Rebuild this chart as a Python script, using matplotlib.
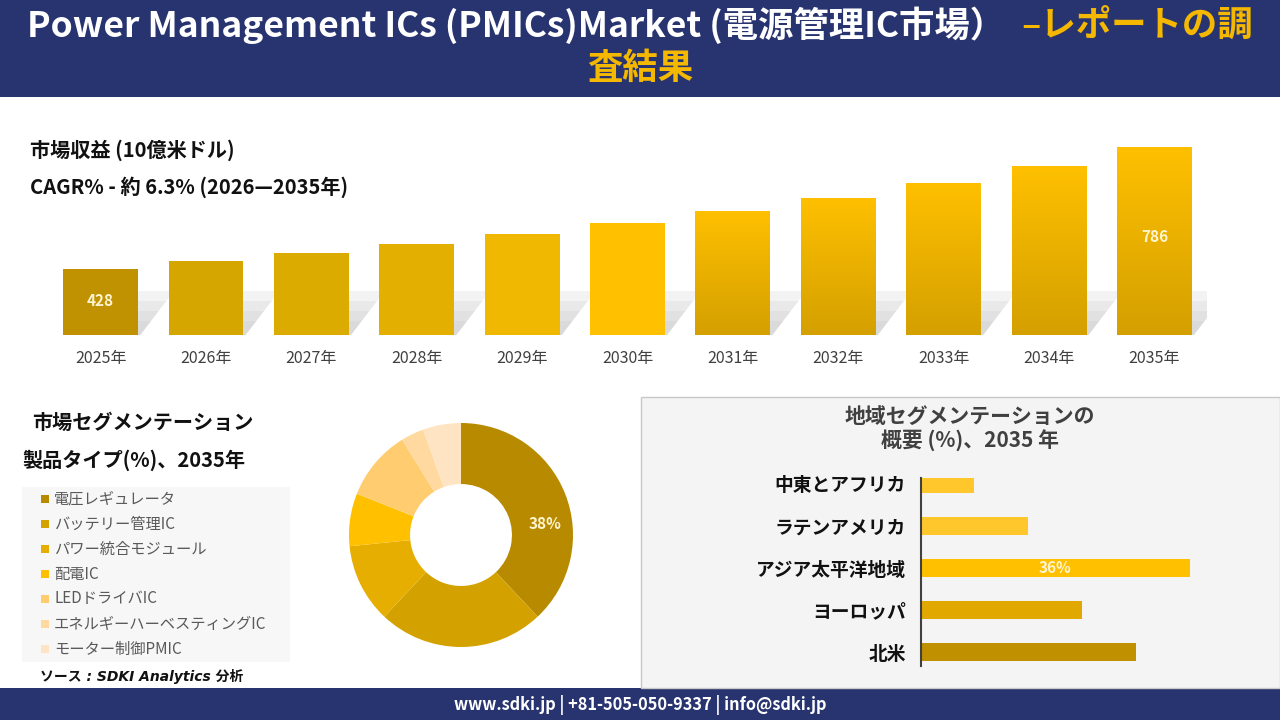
import numpy as np
import matplotlib
matplotlib.use("Agg")
import matplotlib.pyplot as plt
from matplotlib.patches import Rectangle, Polygon

plt.rcParams['font.family'] = ['Noto Sans CJK JP', 'DejaVu Sans']

# market revenue
years = ["2025年", "2026年", "2027年", "2028年", "2029年", "2030年",
         "2031年", "2032年", "2033年", "2034年", "2035年"]
revenue = [428, 451, 475, 501, 530, 563, 598, 636, 680, 730, 786]
bar_colors = ["#C09100", "#D6A600", "#DCAB00", "#E3AF00", "#F0B800", "#FFC000",
              "#FFC000", "#FFC000", "#FFC000", "#FFC000", "#FFC000"]
labelled = {0: "428", 10: "786"}

# product type share 2035
products = ["電圧レギュレータ", "バッテリー管理IC", "パワー統合モジュール", "配電IC",
            "LEDドライバIC", "エネルギーハーベスティングIC", "モーター制御PMIC"]
product_share = [38, 24, 11.4, 7.6, 10.2, 3.3, 5.5]
product_colors = ["#B88A00", "#D4A200", "#E6AE00", "#FFC000", "#FFCC70", "#FFD9A0", "#FFE4C4"]

# regional share 2035
regions = ["中東とアフリカ", "ラテンアメリカ", "アジア太平洋地域", "ヨーロッパ", "北米"]
region_share = [7.1, 14.4, 36, 21.6, 28.8]
region_colors = ["#FFC72C", "#FFC72C", "#FFC000", "#E1A900", "#C09000"]

W, H = 1280, 720
fig = plt.figure(figsize=(12.8, 7.2), dpi=100)
fig.patch.set_facecolor("white")

def fx(px):
    return px / W

def fy(py):
    return 1 - py / H

def box(x0, y0, x1, y1):
    # pixel box -> figure rect
    return [fx(x0), fy(y1), fx(x1) - fx(x0), fy(y0) - fy(y1)]

navy = "#283470"
gold = "#F5B800"

# header and footer bands
fig.patches.append(Rectangle((0, fy(97)), 1, 97 / H, transform=fig.transFigure,
                             facecolor=navy, edgecolor="none", zorder=-2))
fig.patches.append(Rectangle((0, 0), 1, 32 / H, transform=fig.transFigure,
                             facecolor=navy, edgecolor="none", zorder=-2))
# right lower panel
fig.patches.append(Rectangle((fx(641), fy(688)), fx(1280) - fx(641), (688 - 397) / H,
                             transform=fig.transFigure, facecolor="#F4F4F4",
                             edgecolor="#C8C8C8", linewidth=1, zorder=-2))

# title: white part + gold part on one line, centred
renderer = fig.canvas.get_renderer()
t1 = fig.text(0, fy(25), "Power Management ICs (PMICs)Market (電源管理IC市場）  ",
              color="white", fontsize=25.5, fontweight="bold", va="center", ha="left")
t2 = fig.text(0, fy(25), "–レポートの調", color=gold, fontsize=25.5,
              fontweight="bold", va="center", ha="left")
w1 = t1.get_window_extent(renderer).width
w2 = t2.get_window_extent(renderer).width
start = (W - (w1 + w2)) / 2
t1.set_x(fx(start))
t2.set_x(fx(start + w1))
fig.text(fx(640), fy(68), "査結果", color=gold, fontsize=25.5, fontweight="bold",
         va="center", ha="center")

# revenue text
fig.text(fx(30), fy(150), "市場収益 (10億米ドル)", fontsize=14.5, fontweight="bold",
         color="#111111", va="center")
fig.text(fx(30), fy(187), "CAGR% - 約 6.3% (2026—2035年)", fontsize=14.5,
         fontweight="bold", color="#111111", va="center")

# revenue bar chart
ax = fig.add_axes(box(48, 130, 1207, 335))
x = np.arange(len(years))
bw = 0.71
base = 234
top = base + 205 / 0.341
# soft skewed shadow, built from a few faint layers
for i, v in enumerate(revenue):
    for k, hpx in enumerate([14, 24, 34, 44]):
        hs = hpx / 0.341
        sk = 0.32 * hpx / 44
        ax.add_patch(Polygon([(i - bw / 2 + 0.15, base), (i + bw / 2 + 0.02, base),
                              (i + bw / 2 + 0.02 + sk, base + hs), (i - bw / 2 + 0.15 + sk, base + hs)],
                             closed=True, facecolor="#BDBDBD", edgecolor="none",
                             alpha=0.18, zorder=1))
bars = ax.bar(x, revenue, width=bw, bottom=0, color=bar_colors, zorder=2)
grad = np.linspace(0, 1, 256).reshape(-1, 1)
cmap = matplotlib.colors.LinearSegmentedColormap.from_list("g", ["#D4A000", "#FFC000"])
for i in range(6, len(years)):
    b = bars[i]
    b.set_facecolor("none")
    im = ax.imshow(grad, extent=(i - bw / 2, i + bw / 2, base, revenue[i]), origin="lower",
                   cmap=cmap, aspect="auto", zorder=2.5)
    im.set_clip_path(b)
ax.set_xlim(-0.5, len(years) - 0.5)
ax.set_ylim(base, top)
for i, s in labelled.items():
    yv = base + (revenue[i] - base) * 0.52
    ax.text(i, yv, s, ha="center", va="center", color="#FFF4D0", fontsize=11,
            fontweight="bold", zorder=4)
ax.set_xticks(x)
ax.set_xticklabels(years, fontsize=11.5, color="#404040")
ax.tick_params(axis="x", length=0, pad=11)
ax.set_yticks([])
for s in ax.spines.values():
    s.set_visible(False)
ax.patch.set_alpha(0)

# product segmentation text + legend
fig.text(fx(32), fy(422), "市場セグメンテーション", fontsize=14.5, fontweight="bold",
         color="#111111", va="center")
fig.text(fx(22), fy(460), "製品タイプ(%)、2035年", fontsize=14.5, fontweight="bold",
         color="#111111", va="center")
fig.patches.append(Rectangle((fx(22), fy(662)), fx(290) - fx(22), (662 - 487) / H,
                             transform=fig.transFigure, facecolor="#F7F7F7",
                             edgecolor="none", zorder=-1))
for k, (name, c) in enumerate(zip(products, product_colors)):
    yy = 499 + 25 * k
    fig.patches.append(Rectangle((fx(41), fy(yy + 4)), 8 / W, 8 / H, transform=fig.transFigure,
                                 facecolor=c, edgecolor="none", zorder=1))
    fig.text(fx(54), fy(yy), name, fontsize=11, color="#595959", va="center")
fig.text(fx(40), fy(676), "ソース : SDKI Analytics 分析", fontsize=10, style="italic",
         fontweight="bold", family=["DejaVu Sans", "Noto Sans CJK JP"],
         color="#111111", va="center")

# donut
ax2 = fig.add_axes(box(349, 423, 573, 647))
ax2.pie(product_share, colors=product_colors, startangle=90, counterclock=False,
        radius=1, wedgeprops=dict(width=0.545, edgecolor="none"))
ax2.set_xlim(-1, 1)
ax2.set_ylim(-1, 1)
ax2.set_aspect("equal")
ax2.text(0.75, 0.1, f"{product_share[0]:.0f}%", ha="center", va="center",
         color="#FFF4D0", fontsize=11, fontweight="bold")

# regional panel
fig.text(fx(970), fy(429), "地域セグメンテーションの\n概要 (%)、2035 年", fontsize=15,
         fontweight="bold", color="#404040", ha="center", va="center", linespacing=1.2)
ax3 = fig.add_axes(box(921, 478, 1220, 666))
yp = np.arange(len(regions))
ax3.barh(yp, region_share, height=0.43, color=region_colors, zorder=2)
ax3.set_xlim(0, 298 / 7.44)
ax3.set_ylim(4.33, -0.14)
ax3.set_yticks(yp)
ax3.set_yticklabels(regions, fontsize=13.5, fontweight="bold", color="#111111")
ax3.tick_params(axis="y", length=0, pad=11)
ax3.set_xticks([])
for n, s in ax3.spines.items():
    s.set_visible(n == "left")
ax3.spines["left"].set_color("#404040")
ax3.spines["left"].set_linewidth(1.5)
ax3.patch.set_alpha(0)
ax3.text(region_share[2] / 2, 2, f"{region_share[2]:.0f}%", ha="center", va="center",
         color="#FFF4D0", fontsize=11, fontweight="bold", zorder=3)

# footer
fig.text(0.5, fy(705), "www.sdki.jp | +81-505-050-9337 | info@sdki.jp", color="white",
         fontsize=11.8, fontweight="bold", ha="center", va="center")

fig.savefig("out.png", dpi=100, facecolor=fig.get_facecolor())
